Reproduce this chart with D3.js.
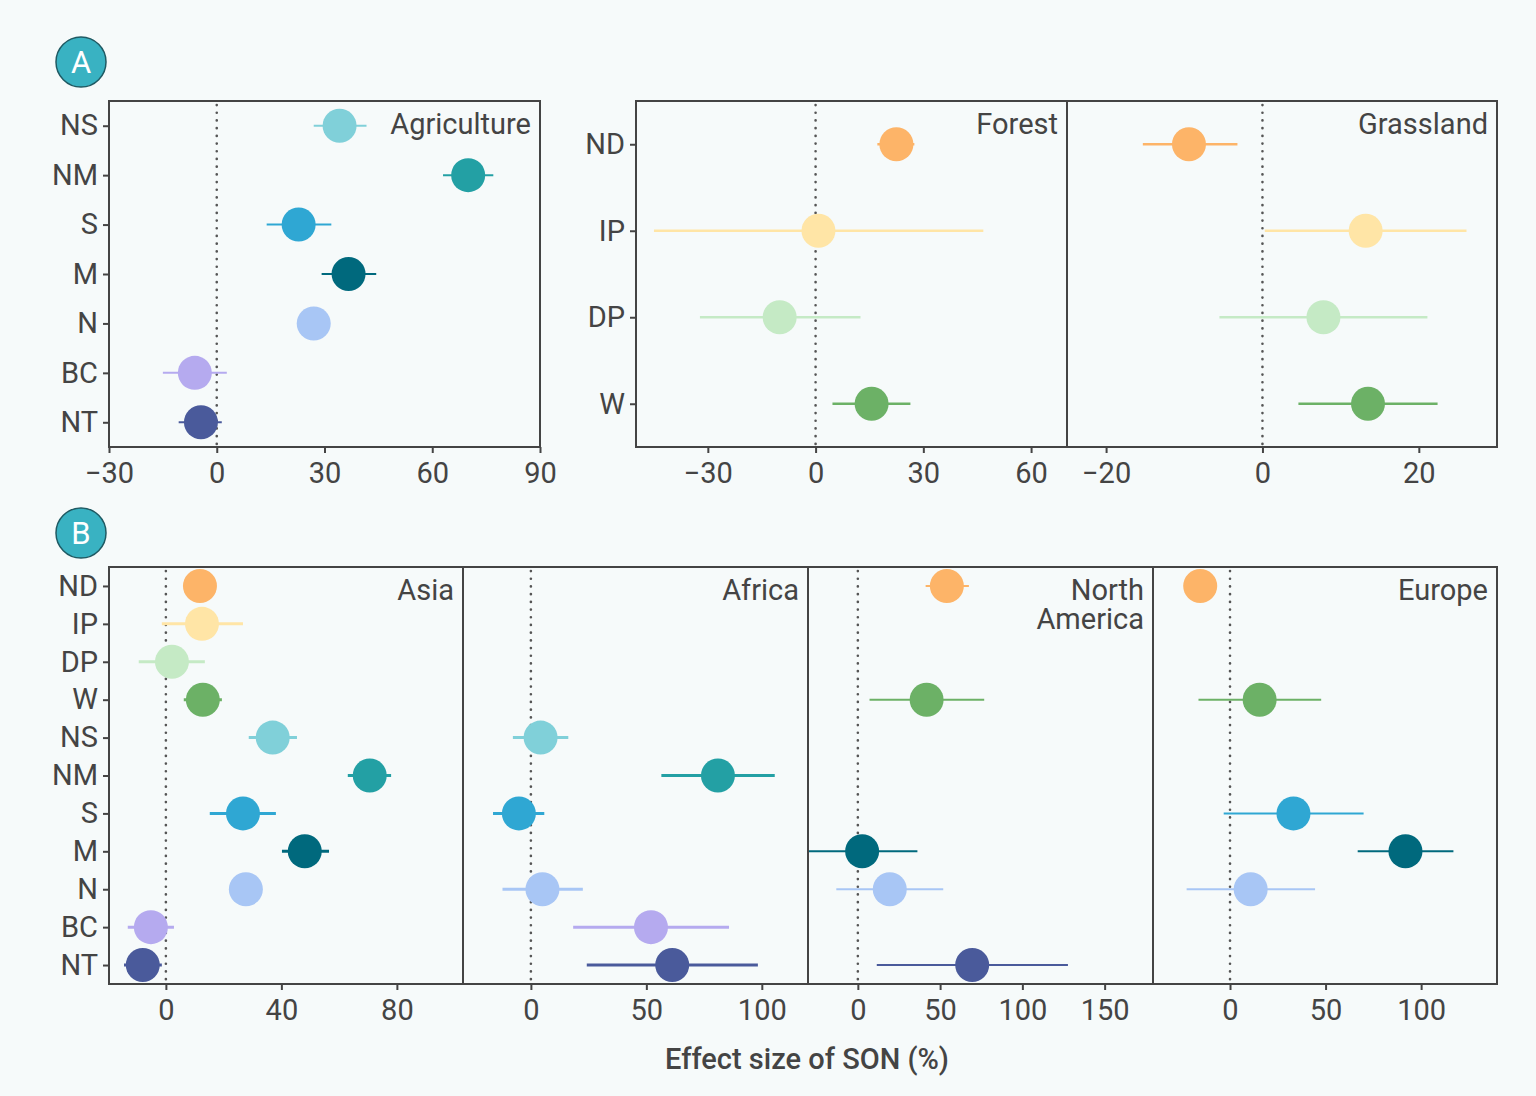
<!DOCTYPE html>
<html lang="en">
<head>
  <meta charset="UTF-8" />
  <title>Effect size of SON</title>
  <style>
    html, body {
      margin: 0;
      padding: 0;
      background: #f6fafa;
      font-family: Roboto, "Noto Sans", sans-serif;
    }
    svg text {
      fill: #444;
    }
  </style>
</head>
<body>
<svg id="chart" width="1536" height="1096"></svg>

<script src="https://d3js.org/d3.v7.min.js"></script>
<script>
  // ---- data ----
  const colours = {
    ND: "#fdb468", IP: "#ffe5a6", DP: "#c5eac5", W: "#6cb166",
    NS: "#80d0d9", NM: "#23a0a4", S: "#2fa7d3", M: "#00697d",
    N: "#a8c6f5", BC: "#b5aaef", NT: "#4a5a9b"
  };

  const catsA = ["NS", "NM", "S", "M", "N", "BC", "NT"];
  const agriMean = [34.2, 70, 22.8, 36.7, 27, -6.1, -4.4];
  const agriLow  = [27, 63, 13.9, 29.2, 25, -15, -10.6];
  const agriHigh = [41.7, 77, 31.9, 44.4, 29, 2.8, 1.4];

  const catsFG = ["ND", "IP", "DP", "W"];
  const forestMean = [22.5, 0.8, -10, 15.6];
  const forestLow  = [17.2, -45, -32.2, 4.7];
  const forestHigh = [27.5, 46.7, 12.5, 26.4];
  const grassMean = [-9.4, 13.2, 7.8, 13.5];
  const grassLow  = [-15.3, 0.3, -5.5, 4.6];
  const grassHigh = [-3.2, 26.1, 21.1, 22.4];

  const catsB = ["ND", "IP", "DP", "W", "NS", "NM", "S", "M", "N", "BC", "NT"];
  const asiaMean = [11.8, 12.5, 2.1, 12.8, 37, 70.6, 26.7, 48.1, 27.7, -5.2, -8];
  const asiaLow  = [9, -1.4, -9.4, 6.2, 28.7, 63, 15.2, 40.2, 25, -13.2, -14.5];
  const asiaHigh = [14.5, 26.7, 13.5, 19.4, 45.4, 78, 38.1, 56.5, 30.5, 2.8, -1.4];

  const africaMean = [null, null, null, null, 4.2, 81, -5.2, null, 5, 52, 61.2];
  const africaLow  = [null, null, null, null, -7.8, 56.5, -16.4, null, -12.3, 18.3, 24.2];
  const africaHigh = [null, null, null, null, 16.2, 105.6, 5.8, null, 22.5, 85.8, 98.3];

  const naMean = [54.1, null, null, 41.8, null, null, null, 2.6, 19.4, null, 69.5];
  const naLow  = [41.2, null, null, 7.1, null, null, null, -30.3, -13.1, null, 11.5];
  const naHigh = [67.5, null, null, 76.8, null, null, null, 36.2, 51.9, null, 127.7];

  const euMean = [-15.6, null, null, 15.5, null, null, 33.2, 91.8, 10.8, null, null];
  const euLow  = [-18, null, null, -16.5, null, null, -3.3, 66.8, -22.7, null, null];
  const euHigh = [-13, null, null, 47.7, null, null, 69.9, 116.9, 44.5, null, null];

  // ---- layout ----
  const svg = d3.select("#chart");
  const R = 17;
  const FS = 29;

  const panels = [
    { name: ["Agriculture"], x0: 109, x1: 540, y0: 101, y1: 447, cats: catsA,
      domain: [-30, 90], ticks: [-30, 0, 30, 60, 90], yAxis: true, lw: 2,
      mean: agriMean, low: agriLow, high: agriHigh },
    { name: ["Forest"], x0: 636, x1: 1067, y0: 101, y1: 447, cats: catsFG,
      domain: [-50, 70], ticks: [-30, 0, 30, 60], yAxis: true, lw: 2.5,
      mean: forestMean, low: forestLow, high: forestHigh },
    { name: ["Grassland"], x0: 1067, x1: 1497, y0: 101, y1: 447, cats: catsFG,
      domain: [-25, 30], ticks: [-20, 0, 20], yAxis: false, lw: 2.5,
      mean: grassMean, low: grassLow, high: grassHigh },
    { name: ["Asia"], x0: 109, x1: 463, y0: 567, y1: 984, cats: catsB,
      domain: [-19.7, 102.9], ticks: [0, 40, 80], yAxis: true, lw: 3,
      mean: asiaMean, low: asiaLow, high: asiaHigh },
    { name: ["Africa"], x0: 463, x1: 808, y0: 567, y1: 984, cats: catsB,
      domain: [-29.4, 120], ticks: [0, 50, 100], yAxis: false, lw: 3,
      mean: africaMean, low: africaLow, high: africaHigh },
    { name: ["North", "America"], x0: 808, x1: 1153, y0: 567, y1: 984, cats: catsB,
      domain: [-30.3, 179.4], ticks: [0, 50, 100, 150], yAxis: false, lw: 2,
      mean: naMean, low: naLow, high: naHigh },
    { name: ["Europe"], x0: 1153, x1: 1497, y0: 567, y1: 984, cats: catsB,
      domain: [-40.3, 139.7], ticks: [0, 50, 100], yAxis: false, lw: 2,
      mean: euMean, low: euLow, high: euHigh }
  ];

  panels.forEach((p, i) => {
    const x = d3.scaleLinear().domain(p.domain).range([p.x0, p.x1]);
    const y = d3.scalePoint().domain(p.cats).range([p.y0, p.y1]).padding(0.5);

    const clipId = "clip" + i;
    svg.append("clipPath").attr("id", clipId)
      .append("rect")
      .attr("x", p.x0).attr("y", p.y0)
      .attr("width", p.x1 - p.x0).attr("height", p.y1 - p.y0);

    const g = svg.append("g");

    // zero reference line
    g.append("line")
      .attr("x1", x(0)).attr("x2", x(0))
      .attr("y1", p.y0 + 4).attr("y2", p.y1 - 2)
      .attr("stroke", "#555")
      .attr("stroke-width", 2.6)
      .attr("stroke-linecap", "round")
      .attr("stroke-dasharray", "0.1,7.6");

    const rows = p.cats.map((c, j) => ({ c, m: p.mean[j], lo: p.low[j], hi: p.high[j] }))
      .filter(d => d.m !== null);

    const marks = g.append("g").attr("clip-path", `url(#${clipId})`);

    marks.selectAll(".err")
      .data(rows)
      .enter().append("line")
      .attr("class", "err")
      .attr("x1", d => x(d.lo)).attr("x2", d => x(d.hi))
      .attr("y1", d => y(d.c)).attr("y2", d => y(d.c))
      .attr("stroke", d => colours[d.c])
      .attr("stroke-width", p.lw);

    marks.selectAll(".pt")
      .data(rows)
      .enter().append("circle")
      .attr("class", "pt")
      .attr("cx", d => x(d.m)).attr("cy", d => y(d.c))
      .attr("r", R)
      .attr("fill", d => colours[d.c]);

    // panel frame
    g.append("rect")
      .attr("x", p.x0).attr("y", p.y0)
      .attr("width", p.x1 - p.x0).attr("height", p.y1 - p.y0)
      .attr("fill", "none")
      .attr("stroke", "#444")
      .attr("stroke-width", 2);

    // x axis
    const xa = g.append("g")
      .attr("transform", `translate(0,${p.y1})`)
      .call(d3.axisBottom(x).tickValues(p.ticks).tickSize(6).tickPadding(9)
        .tickFormat(d => d < 0 ? "\u2212" + Math.abs(d) : d));
    xa.select(".domain").remove();
    xa.selectAll("line").attr("stroke", "#444").attr("stroke-width", 2);
    xa.selectAll("text").attr("font-size", FS).attr("fill", "#444")
      .attr("font-family", "Roboto");

    // y axis
    if (p.yAxis) {
      const ya = g.append("g")
        .attr("transform", `translate(${p.x0},0)`)
        .call(d3.axisLeft(y).tickSize(6).tickPadding(5));
      ya.select(".domain").remove();
      ya.selectAll("line").attr("stroke", "#444").attr("stroke-width", 2);
      ya.selectAll("text").attr("font-size", FS).attr("fill", "#444")
        .attr("font-family", "Roboto");
    }

    // panel label
    const lab = g.append("text")
      .attr("text-anchor", "end")
      .attr("font-size", FS)
      .attr("font-family", "Roboto");
    p.name.forEach((t, k) => {
      lab.append("tspan")
        .attr("x", p.x1 - 9)
        .attr("y", p.y0 + 33 + k * 29)
        .text(t);
    });
  });

  // panel badges
  [["A", 81, 62], ["B", 81, 533]].forEach(([t, cx, cy]) => {
    svg.append("circle")
      .attr("cx", cx).attr("cy", cy).attr("r", 25)
      .attr("fill", "#39b2c2")
      .attr("stroke", "#1f5a63")
      .attr("stroke-width", 1.5);
    svg.append("text")
      .attr("x", cx).attr("y", cy + 11)
      .attr("text-anchor", "middle")
      .attr("font-size", 31)
      .attr("font-family", "Roboto")
      .style("fill", "#fff")
      .text(t);
  });

  // axis title
  svg.append("text")
    .attr("x", 807).attr("y", 1069)
    .attr("text-anchor", "middle")
    .attr("font-size", FS)
    .attr("font-weight", 500)
    .attr("font-family", "Roboto")
    .text("Effect size of SON (%)");
</script>
</body>
</html>
